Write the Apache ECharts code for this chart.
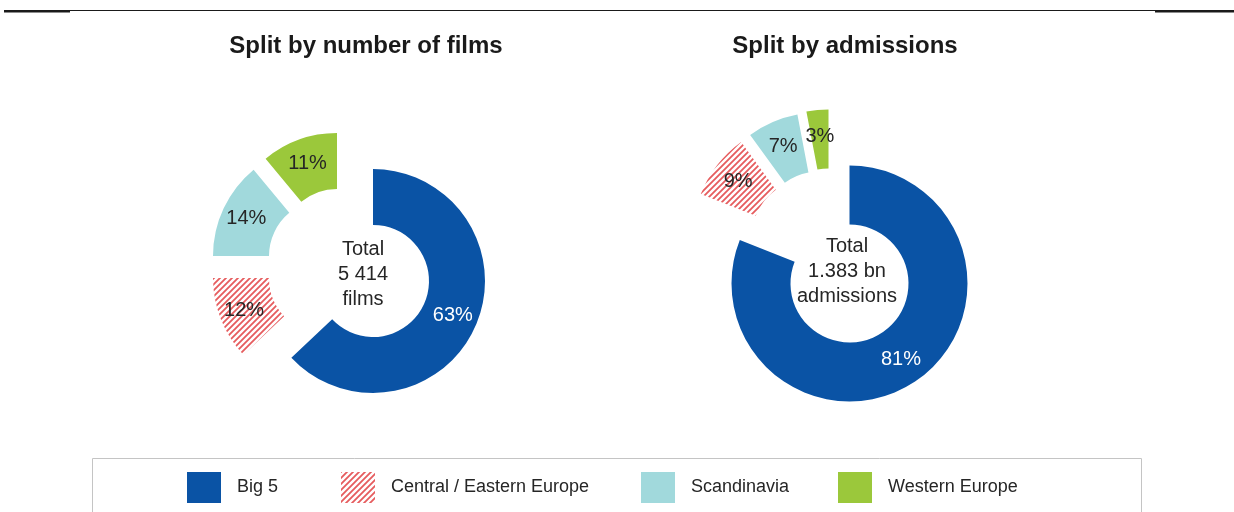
<!DOCTYPE html>
<html>
<head>
<meta charset="utf-8">
<script src="https://cdn.jsdelivr.net/npm/echarts@6/dist/echarts.min.js"></script>
<style>
  html, body { margin: 0; padding: 0; background: #fff; }
  #chart { width: 1234px; height: 512px; }
</style>
</head>
<body>
<div id="chart"></div>
<script>
// regions and shares (%)
const regions = ['Big 5', 'Central / Eastern Europe', 'Scandinavia', 'Western Europe']
const filmsShare = [63, 12, 14, 11]
const admissionsShare = [81, 9, 7, 3]
const filmsTotal = ['Total', '5 414', 'films']
const admissionsTotal = ['Total', '1.383 bn', 'admissions']

const FONT = '"Liberation Sans", Arial, sans-serif'
const TEXT = '#262626'

// hatched red fill for Central / Eastern Europe
function hatch() {
  const s = 6
  const c = document.createElement('canvas')
  c.width = s; c.height = s
  const g = c.getContext('2d')
  g.fillStyle = '#fff'
  g.fillRect(0, 0, s, s)
  g.strokeStyle = '#e65c5e'
  g.lineWidth = 1.8
  g.beginPath()
  g.moveTo(-1, s + 1); g.lineTo(s + 1, -1)
  g.moveTo(-1, 1); g.lineTo(1, -1)
  g.moveTo(s - 1, s + 1); g.lineTo(s + 1, s - 1)
  g.stroke()
  return { image: c, repeat: 'repeat' }
}

const colors = ['#0a53a5', hatch(), '#a1d9dc', '#9bc83b']
const labelColors = ['#fff', TEXT, TEXT, TEXT]

// each slice is drawn as its own pie so it can be pulled out by hand
function sliceSeries(values, i, cx, cy, R, off) {
  const sum = a => a.reduce((s, v) => s + v, 0)
  const pad = (name, v) => ({
    name, value: v,
    itemStyle: { color: 'rgba(0,0,0,0)' },
    label: { show: false },
  })
  return {
    type: 'pie',
    silent: true,
    startAngle: 90,
    clockwise: true,
    center: [cx + off[0], cy + off[1]],
    radius: [R / 2, R],
    emphasis: { disabled: true },
    label: {
      show: true,
      position: 'inside',
      formatter: '{c}%',
      fontFamily: FONT,
      fontSize: 20,
      color: labelColors[i],
    },
    labelLine: { show: false },
    data: [
      pad('pre' + i, sum(values.slice(0, i))),
      { name: regions[i], value: values[i], itemStyle: { color: colors[i] } },
      pad('post' + i, sum(values.slice(i + 1))),
    ],
  }
}

const filmsOffsets = [[0, 0], [-48, -3], [-48, -25], [-36, -36]]
const admOffsets = [[0, 0], [-39, -46], [-30, -53], [-21, -56]]

const series = []
regions.forEach((r, i) => series.push(sliceSeries(filmsShare, i, 373, 281, 112, filmsOffsets[i])))
regions.forEach((r, i) => series.push(sliceSeries(admissionsShare, i, 849.5, 283.5, 118, admOffsets[i])))

const legendLeft = [187, 341, 641, 838]
const legend = regions.map((r, i) => ({
  data: [r],
  left: legendLeft[i],
  top: 472,
  padding: 0,
  orient: 'horizontal',
  icon: 'rect',
  itemWidth: 34,
  itemHeight: 31,
  selectedMode: false,
  textStyle: { fontFamily: FONT, fontSize: 18, color: TEXT, padding: [0, 0, 0, 11] },
}))

const titleStyle = { fontFamily: FONT, fontSize: 24, fontWeight: 'bold', color: '#1a1a1a', lineHeight: 28 }
const centerStyle = { fontFamily: FONT, fontSize: 20, fontWeight: 'normal', color: TEXT, lineHeight: 25 }

const chart = echarts.init(document.getElementById('chart'), null, { renderer: 'canvas' })
chart.setOption({
  animation: false,
  title: [
    { text: 'Split by number of films', left: 366, top: 32, textAlign: 'center', padding: 0, textStyle: titleStyle },
    { text: 'Split by admissions', left: 845, top: 32, textAlign: 'center', padding: 0, textStyle: titleStyle },
    { text: filmsTotal.join('\n'), left: 363, top: 237, textAlign: 'center', padding: 0, textStyle: centerStyle },
    { text: admissionsTotal.join('\n'), left: 847, top: 234, textAlign: 'center', padding: 0, textStyle: centerStyle },
  ],
  legend,
  graphic: [
    { type: 'rect', shape: { x: 4, y: 10, width: 1230, height: 1 }, style: { fill: '#1a1a1a' } },
    { type: 'rect', shape: { x: 4, y: 10, width: 66, height: 2.5 }, style: { fill: '#1a1a1a' } },
    { type: 'rect', shape: { x: 1155, y: 10, width: 79, height: 2.5 }, style: { fill: '#1a1a1a' } },
    { type: 'rect', shape: { x: 92.5, y: 458.5, width: 1049, height: 70 }, style: { fill: 'none', stroke: '#c4c4c4', lineWidth: 1 } },
  ],
  series,
})
</script>
</body>
</html>
